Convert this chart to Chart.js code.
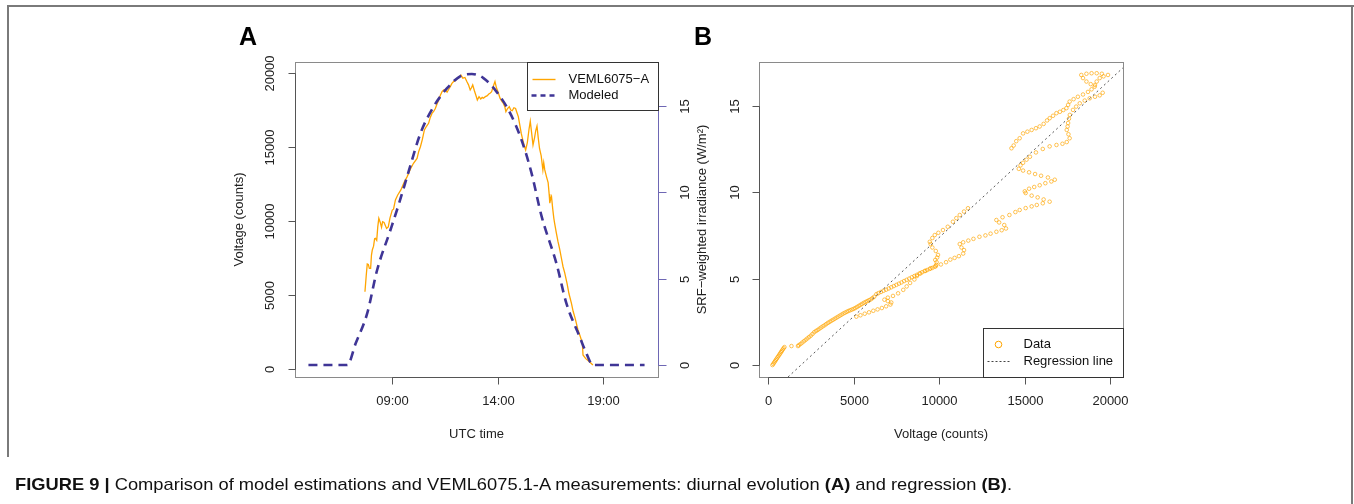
<!DOCTYPE html>
<html><head><meta charset="utf-8">
<script src="https://cdn.jsdelivr.net/npm/chart.js@4/dist/chart.umd.min.js"></script>
<style>
html,body{margin:0;padding:0;background:#fff;}
body{width:1354px;height:504px;position:relative;overflow:hidden;font-family:"Liberation Sans",Arial,sans-serif;}
canvas{position:absolute;left:0;top:0;}
.fr{position:absolute;background:#7a7a7a;}
.panel{position:absolute;font-weight:bold;font-size:25px;line-height:25px;color:#000;}
#cap{position:absolute;left:15px;top:475px;font-size:17px;white-space:nowrap;transform-origin:0 0;color:#111;}
</style></head>
<body>
<div class="fr" style="left:7px;top:5px;width:1347px;height:2px"></div>
<div class="fr" style="left:7px;top:5px;width:2px;height:452px"></div>
<div class="fr" style="left:1351px;top:5px;width:2px;height:499px"></div>
<canvas id="cA" width="1354" height="504"></canvas>
<canvas id="cB" width="1354" height="504"></canvas>
<div class="panel" style="left:239px;top:24px">A</div>
<div class="panel" style="left:694px;top:24px">B</div>
<div id="cap"><b>FIGURE 9 |</b> Comparison of model estimations and VEML6075.1-A measurements: diurnal evolution <b>(A)</b> and regression <b>(B)</b>.</div>
<script>
// ---------- DATA ----------
// Panel A: measured VEML6075-A (UTC hours, counts)
const measTime = [7.69,7.75,7.8,7.85,7.9,7.96,8.0,8.04,8.1,8.15,8.19,8.25,8.3,8.35,8.42,8.48,8.53,8.6,8.66,8.72,8.8,8.88,8.99,9.05,9.14,9.25,9.4,9.55,9.7,9.85,10.0,10.17,10.25,10.33,10.42,10.52,10.62,10.72,10.8,10.88,10.96,11.04,11.12,11.2,11.28,11.36,11.44,11.51,11.6,11.68,11.75,11.83,11.91,12.0,12.1,12.18,12.26,12.35,12.45,12.54,12.62,12.7,12.76,12.82,12.9,12.97,13.04,13.12,13.2,13.27,13.33,13.42,13.5,13.6,13.66,13.72,13.8,13.88,13.95,14.03,14.12,14.2,14.28,14.35,14.4,14.48,14.56,14.63,14.7,14.78,14.86,14.93,14.99,15.06,15.13,15.2,15.27,15.34,15.42,15.5,15.56,15.62,15.69,15.76,15.82,15.88,15.94,16.0,16.08,16.16,16.2,16.25,16.33,16.41,16.46,16.49,16.53,16.57,16.63,16.68,16.72,16.8,16.88,16.96,17.04,17.12,17.2,17.31,17.4,17.52,17.6,17.7,17.83,17.94,18.04,18.07,18.2,18.38,18.54];
const measCounts = [5220,6300,7100,7070,6800,6800,7700,8040,8300,8800,8830,8700,9600,10180,9900,9570,9950,9900,9700,9500,9600,10200,10740,10800,11420,11760,12100,12600,13000,13500,13900,14230,14700,15020,15500,16150,16400,16600,17000,17270,17400,17600,17900,18180,18500,18740,18850,18850,18700,18900,19080,19300,19420,19500,19650,19700,19860,19650,19700,19420,19200,18850,19000,19190,18800,18500,18180,18400,18250,18350,18300,18400,18450,18600,18650,18740,19100,19420,19000,18700,18300,18100,17950,17700,17390,17600,17730,17500,17450,17650,17600,17300,17050,16500,15920,15500,15100,14800,15300,16200,16740,16000,15140,15600,16100,16420,15600,14900,14400,13450,13940,13450,13000,12600,11800,11200,11500,11650,10800,10200,9840,9200,8600,8100,7500,6910,6500,5790,5100,4430,3900,3400,2640,2200,1740,950,700,490,270];
// Panel A: modeled SRF-weighted irradiance (UTC hours, W/m2)
const modelTime = [5.0,6.0,6.85,7.25,7.8,8.27,8.9,9.3,9.77,10.33,10.96,11.59,12.22,12.78,13.33,13.96,14.59,15.15,15.62,16.1,16.8,17.28,17.91,18.23,18.54,19.5,21.0];
const modelIrr  = [0,0,0,1.26,3.0,5.5,7.8,9.3,11.2,13.4,14.95,16.0,16.7,16.84,16.6,15.8,14.6,13.0,11.1,8.6,5.9,3.57,1.64,0.68,0,0,0];
// Panel B: data points (voltage counts, irradiance W/m2)
const scatterPairs = [
[260,0.0],[310,0.07],[360,0.15],[410,0.22],[460,0.3],[510,0.37],[560,0.45],[610,0.52],[660,0.6],[710,0.67],[760,0.75],[810,0.82],[860,0.9],[910,0.97],[960,1.04],
[1370,1.1],[1750,1.1],
[1800,1.15],[1900,1.22],[2000,1.3],[2100,1.38],[2200,1.46],[2300,1.54],[2400,1.62],[2500,1.7],[2600,1.8],[2700,1.9],[2800,1.97],[2900,2.03],[3000,2.1],[3100,2.17],[3200,2.24],[3300,2.3],[3400,2.37],[3500,2.44],[3600,2.5],[3700,2.56],[3800,2.62],[3900,2.68],[4000,2.74],[4100,2.8],[4200,2.86],[4300,2.92],[4400,2.98],[4500,3.03],[4600,3.08],[4700,3.13],[4800,3.17],[4900,3.21],[5000,3.25],[5100,3.3],[5200,3.36],[5300,3.42],[5400,3.48],[5500,3.54],[5600,3.6],[5700,3.65],[5800,3.7],[5900,3.75],[6000,3.8],[6100,3.87],[6200,3.95],[6330,4.1],[6450,4.16],[6600,4.23],[6750,4.3],[6900,4.36],[7050,4.43],[7200,4.5],[7350,4.57],[7500,4.64],[7650,4.71],[7800,4.78],[7950,4.86],[8100,4.93],[8250,5.0],[8400,5.08],[8550,5.15],[8700,5.22],[8850,5.3],[9000,5.37],[9150,5.44],[9300,5.5],[9450,5.56],[9600,5.62],[9740,5.69],[9830,5.8],[9850,5.95],[9770,6.08],[9880,6.22],[9930,6.37],[9800,6.6],[9600,6.8],[9500,7.0],[9450,7.13],[9600,7.35],[9740,7.52],[9950,7.65],[10220,7.81],[10500,8.0],[10800,8.29],[11000,8.5],[11200,8.68],[11450,8.88],[11680,9.07],
[5160,2.8],[5400,2.88],[5650,2.97],[5900,3.05],[6150,3.14],[6400,3.22],[6650,3.3],[6900,3.4],[7150,3.5],[7200,3.62],[7000,3.7],[6800,3.78],[7000,3.9],[7300,4.0],[7600,4.15],[7900,4.35],[8100,4.55],[8300,4.75],[8550,4.95],[8700,5.15],[8900,5.3],[9200,5.45],[9500,5.6],[9800,5.72],[10100,5.82],[10400,5.95],[10650,6.1],[10900,6.2],[11150,6.3],[11400,6.45],[11450,6.65],[11300,6.8],[11200,7.0],[11400,7.1],[11700,7.2],[12000,7.3],[12350,7.42],[12700,7.5],[13000,7.6],[13340,7.71],[13650,7.8],[13900,7.9],[13800,8.1],[13500,8.25],[13340,8.39],[13700,8.55],[14100,8.68],[14450,8.85],[14700,8.97],[15050,9.08],[15400,9.18],[15700,9.26],[16050,9.36],[16450,9.45],[16100,9.58],[15750,9.7],[15400,9.8],[15050,9.95],[15000,10.05],[15250,10.2],[15550,10.3],[15870,10.4],[16200,10.52],[16550,10.62],[16750,10.72],[16350,10.85],[15950,10.95],[15600,11.05],[15250,11.15],[14900,11.25],[14650,11.35],[14750,11.55],[14900,11.7],[15100,11.88],[15300,12.05],[15650,12.3],[16050,12.5],[16450,12.65],[16850,12.73],[17200,12.8],[17450,12.9],[17620,13.12],[17550,13.35],[17450,13.6],[17500,13.8],[17530,14.0],[17580,14.25],[17630,14.47],[17815,14.76],[18000,14.95],[18210,15.14],[18500,15.3],[18790,15.43],[19100,15.52],[19375,15.6],[19550,15.75],
[14220,12.54],[14350,12.7],[14500,12.95],[14700,13.12],[14900,13.4],[15150,13.5],[15400,13.6],[15650,13.7],[15870,13.8],[16100,13.95],[16300,14.15],[16454,14.28],[16650,14.42],[16846,14.57],[17050,14.65],[17250,14.75],[17430,14.86],[17530,15.05],[17620,15.24],[17850,15.38],[18100,15.52],[18400,15.65],[18690,15.8],[18900,15.95],[19080,16.1],[18850,16.25],[18600,16.4],[18400,16.6],[18300,16.78],[18600,16.85],[18900,16.88],[19200,16.88],[19500,16.85],[19860,16.78],[19600,16.7],[19375,16.6],[19200,16.4],[19100,16.2]
];
// Panel B: regression line end points (counts, W/m2)
const regV   = [1170, 20740];
const regIrr = [-0.69, 17.2];
// ticks
const xTickValsA = [9, 14, 19];
const xTickLabelsA = ['09:00', '14:00', '19:00'];
const yTicksA = [0, 5000, 10000, 15000, 20000];
const y2TicksA = [0, 5, 10, 15];
const xTicksB = [0, 5000, 10000, 15000, 20000];
const yTicksB = [0, 5, 10, 15];

// ---------- STYLE ----------
const FONT = '13px "Liberation Sans", Arial, Helvetica, sans-serif';
const ORANGE = '#FFA500';
const MODEL = '#3F3596';
const RAXIS = '#6E67B4';

function rotText(ctx, t, x, y) {
  ctx.save(); ctx.translate(x, y); ctx.rotate(-Math.PI / 2);
  ctx.textAlign = 'center'; ctx.textBaseline = 'middle'; ctx.fillText(t, 0, 0); ctx.restore();
}
function seg(ctx, x1, y1, x2, y2) { ctx.beginPath(); ctx.moveTo(x1, y1); ctx.lineTo(x2, y2); ctx.stroke(); }
const px = v => Math.round(v) + 0.5;

const axesA = {
  id: 'axesA',
  afterDraw(chart) {
    const {ctx, chartArea: a, scales: {x, y, y2}} = chart;
    const L = px(a.left), R = px(a.right), T = px(a.top), B = px(a.bottom);
    ctx.save();
    ctx.lineWidth = 1; ctx.strokeStyle = '#8a8a8a';
    ctx.strokeRect(L, T, R - L, B - T);
    ctx.strokeStyle = '#555'; ctx.fillStyle = '#222'; ctx.font = FONT;
    seg(ctx, L, px(y.getPixelForValue(yTicksA[0])), L, px(y.getPixelForValue(yTicksA[yTicksA.length - 1])));
    yTicksA.forEach(v => { const p = px(y.getPixelForValue(v)); seg(ctx, L - 7, p, L, p); rotText(ctx, String(v), L - 25, p); });
    seg(ctx, px(x.getPixelForValue(xTickValsA[0])), B, px(x.getPixelForValue(xTickValsA[xTickValsA.length - 1])), B);
    xTickValsA.forEach((v, i) => {
      const p = px(x.getPixelForValue(v)); seg(ctx, p, B, p, B + 7);
      ctx.textAlign = 'center'; ctx.textBaseline = 'middle'; ctx.fillText(xTickLabelsA[i], p, B + 24);
    });
    ctx.strokeStyle = RAXIS;
    seg(ctx, R, px(y2.getPixelForValue(y2TicksA[0])), R, px(y2.getPixelForValue(y2TicksA[y2TicksA.length - 1])));
    y2TicksA.forEach(v => { const p = px(y2.getPixelForValue(v)); seg(ctx, R, p, R + 8, p); rotText(ctx, String(v), R + 27, p); });
    ctx.textAlign = 'center'; ctx.textBaseline = 'middle';
    ctx.fillText('UTC time', (a.left + a.right) / 2, B + 57);
    rotText(ctx, 'Voltage (counts)', a.left - 56, (a.top + a.bottom) / 2);
    rotText(ctx, 'SRF\u2212weighted irradiance (W/m\u00b2)', a.right + 44, (a.top + a.bottom) / 2);
    const lx = px(a.right - 131), ly = T;
    ctx.strokeStyle = '#333'; ctx.lineWidth = 1;
    ctx.strokeRect(lx, ly, R - lx, 48);
    ctx.strokeStyle = ORANGE; ctx.lineWidth = 1.4;
    seg(ctx, lx + 5, ly + 17, lx + 28, ly + 17);
    ctx.strokeStyle = MODEL; ctx.lineWidth = 2.5; ctx.setLineDash([5, 4]);
    seg(ctx, lx + 4, ly + 33, lx + 29, ly + 33);
    ctx.setLineDash([]);
    ctx.textAlign = 'left'; ctx.fillStyle = '#111';
    ctx.fillText('VEML6075\u2212A', lx + 41, ly + 17);
    ctx.fillText('Modeled', lx + 41, ly + 33);
    ctx.restore();
  }
};

const axesB = {
  id: 'axesB',
  afterDraw(chart) {
    const {ctx, chartArea: a, scales: {x, y}} = chart;
    const L = px(a.left), R = px(a.right), T = px(a.top), B = px(a.bottom);
    ctx.save();
    ctx.lineWidth = 1; ctx.strokeStyle = '#8a8a8a';
    ctx.strokeRect(L, T, R - L, B - T);
    ctx.strokeStyle = '#555'; ctx.fillStyle = '#222'; ctx.font = FONT;
    seg(ctx, L, px(y.getPixelForValue(yTicksB[0])), L, px(y.getPixelForValue(yTicksB[yTicksB.length - 1])));
    yTicksB.forEach(v => { const p = px(y.getPixelForValue(v)); seg(ctx, L - 7, p, L, p); rotText(ctx, String(v), L - 24, p); });
    seg(ctx, px(x.getPixelForValue(xTicksB[0])), B, px(x.getPixelForValue(xTicksB[xTicksB.length - 1])), B);
    xTicksB.forEach(v => {
      const p = px(x.getPixelForValue(v)); seg(ctx, p, B, p, B + 7);
      ctx.textAlign = 'center'; ctx.textBaseline = 'middle'; ctx.fillText(String(v), p, B + 24);
    });
    ctx.textAlign = 'center';
    ctx.fillText('Voltage (counts)', (a.left + a.right) / 2, B + 57);
    const lx = px(a.right - 140), ly = px(a.bottom - 49);
    ctx.fillStyle = '#fff'; ctx.fillRect(lx, ly, R - lx, B - ly);
    ctx.strokeStyle = '#333'; ctx.strokeRect(lx, ly, R - lx, B - ly);
    ctx.strokeStyle = ORANGE; ctx.lineWidth = 1;
    ctx.beginPath(); ctx.arc(lx + 15, ly + 16, 3.3, 0, Math.PI * 2); ctx.stroke();
    ctx.strokeStyle = '#444'; ctx.setLineDash([2, 2]);
    seg(ctx, lx + 4, ly + 33, lx + 27, ly + 33);
    ctx.setLineDash([]);
    ctx.fillStyle = '#111'; ctx.textAlign = 'left'; ctx.textBaseline = 'middle';
    ctx.fillText('Data', lx + 40, ly + 16);
    ctx.fillText('Regression line', lx + 40, ly + 33);
    ctx.restore();
  }
};

const baseOpts = {
  responsive: false, animation: false, devicePixelRatio: 1,
  plugins: {legend: {display: false}, tooltip: {enabled: false}},
  events: []
};

new Chart(document.getElementById('cA'), {
  type: 'line',
  data: {
    datasets: [
      {label: 'Modeled', data: modelTime.map((t, i) => ({x: t, y: modelIrr[i]})), yAxisID: 'y2',
       borderColor: MODEL, borderWidth: 2.6, borderDash: [9, 6], pointRadius: 0, cubicInterpolationMode: 'monotone', fill: false},
      {label: 'VEML6075-A', data: measTime.map((t, i) => ({x: t, y: measCounts[i]})), yAxisID: 'y',
       borderColor: ORANGE, borderWidth: 1.3, pointRadius: 0, tension: 0, fill: false}
    ]
  },
  options: Object.assign({}, baseOpts, {
    layout: {padding: {left: 295, top: 62, right: 1354 - 658, bottom: 504 - 377}},
    scales: {
      x: {type: 'linear', min: 4.36, max: 21.64, display: false},
      y: {type: 'linear', min: -540, max: 20743, display: false},
      y2: {type: 'linear', min: -0.69, max: 17.53, display: false, position: 'right'}
    }
  }),
  plugins: [axesA]
});

new Chart(document.getElementById('cB'), {
  type: 'scatter',
  data: {
    datasets: [
      {label: 'Regression line', type: 'line', data: regV.map((v, i) => ({x: v, y: regIrr[i]})),
       borderColor: '#555', borderWidth: 1, borderDash: [2, 3], pointRadius: 0, fill: false},
      {label: 'Data', data: scatterPairs.map(p => ({x: p[0], y: p[1]})),
       pointStyle: 'circle', pointRadius: 1.8, borderWidth: 0.9, borderColor: 'rgba(255,165,0,0.75)', backgroundColor: 'rgba(0,0,0,0)'}
    ]
  },
  options: Object.assign({}, baseOpts, {
    layout: {padding: {left: 759, top: 62, right: 1354 - 1123, bottom: 504 - 377}},
    scales: {
      x: {type: 'linear', min: -526, max: 20736, display: false},
      y: {type: 'linear', min: -0.69, max: 17.53, display: false}
    }
  }),
  plugins: [axesB]
});

const cap = document.getElementById('cap');
const w = cap.getBoundingClientRect().width;
cap.style.transform = 'scaleX(' + (997 / w) + ')';
</script>
</body></html>
